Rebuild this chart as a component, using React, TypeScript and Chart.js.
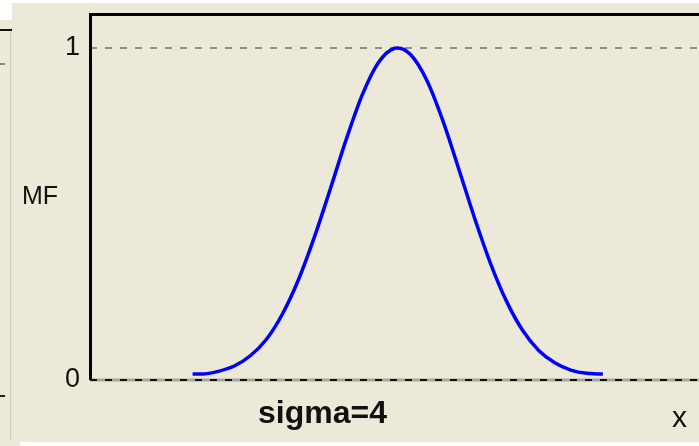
import React, { useEffect, useRef } from "react";
import { Chart, registerables } from "chart.js";

Chart.register(...registerables);

const xValues = [6.4, 7, 8, 9, 10, 11, 12, 13, 14, 15, 16, 17, 18, 19, 19.2, 20, 21, 22, 23, 24, 25, 26, 27, 28, 29, 30, 31, 32];
const mfValues = [0.018, 0.018, 0.026, 0.042, 0.073, 0.122, 0.198, 0.301, 0.43, 0.576, 0.726, 0.86, 0.956, 0.999, 1.0, 0.98, 0.904, 0.783, 0.637, 0.487, 0.35, 0.236, 0.149, 0.089, 0.052, 0.03, 0.02, 0.018];
const yTickValues = [0, 1];
const yTickLabels = ["0", "1"];
const yLabel = "MF";
const xLabel = "x";
const caption = "sigma=4";

const BG = "#ECE9D8";

export default function App() {
  const ref = useRef<HTMLCanvasElement>(null);
  useEffect(() => {
    const canvas = ref.current!;
    const decor = {
      id: "decor",
      beforeDraw(chart: any) {
        const ctx = chart.ctx;
        const { chartArea, scales } = chart;
        ctx.save();
        ctx.fillStyle = BG;
        ctx.fillRect(0, 0, 699, 446);
        ctx.fillStyle = "#ffffff";
        ctx.fillRect(0, 0, 699, 3);
        ctx.fillRect(0, 0, 12, 20);
        ctx.fillRect(20, 442, 679, 4);
        // left neighbour panel remnants
        ctx.fillStyle = "#111";
        ctx.fillRect(0, 29, 12, 2);
        ctx.strokeStyle = "#cfccc0";
        ctx.lineWidth = 1;
        ctx.beginPath();
        ctx.moveTo(10.5, 31);
        ctx.lineTo(10.5, 440);
        ctx.stroke();
        ctx.strokeStyle = "#888";
        ctx.lineWidth = 2;
        ctx.setLineDash([5, 6]);
        ctx.beginPath();
        ctx.moveTo(0, 64);
        ctx.lineTo(9, 64);
        ctx.stroke();
        ctx.strokeStyle = "#222";
        ctx.beginPath();
        ctx.moveTo(0, 396);
        ctx.lineTo(11, 396);
        ctx.stroke();
        ctx.setLineDash([]);
        // gray under-line of zero level
        const y0 = scales.y.getPixelForValue(0);
        ctx.strokeStyle = "#a9a79f";
        ctx.lineWidth = 3;
        ctx.beginPath();
        ctx.moveTo(chartArea.left, y0);
        ctx.lineTo(chartArea.right, y0);
        ctx.stroke();
        ctx.restore();
      },
      afterDraw(chart: any) {
        const ctx = chart.ctx;
        const { chartArea } = chart;
        ctx.save();
        ctx.fillStyle = "#000";
        ctx.fillRect(chartArea.left - 1, chartArea.top - 1, 3, chartArea.bottom - chartArea.top + 1);
        ctx.fillRect(chartArea.left - 1, chartArea.top - 1, chartArea.right - chartArea.left + 1, 3);
        ctx.fillStyle = "#111";
        ctx.textBaseline = "alphabetic";
        ctx.textAlign = "left";
        ctx.font = "25px 'Liberation Sans', Arial, sans-serif";
        ctx.fillText(yLabel, 22, 204);
        ctx.font = "bold 32px 'Liberation Sans', Arial, sans-serif";
        ctx.fillText(caption, 258, 423);
        ctx.font = "30px 'Liberation Sans', Arial, sans-serif";
        ctx.fillText(xLabel, 672, 427);
        ctx.restore();
      },
    };
    const chart = new Chart(canvas, {
      type: "line",
      data: {
        datasets: [
          {
            data: xValues.map((x, i) => ({ x, y: mfValues[i] })),
            borderColor: "#0000FF",
            borderWidth: 3.5,
            pointRadius: 0,
            fill: false,
            cubicInterpolationMode: "monotone",
          },
        ],
      },
      options: {
        animation: false,
        responsive: false,
        devicePixelRatio: 1,
        layout: { padding: { left: 0, top: 14, right: 0, bottom: 66 } },
        plugins: { legend: { display: false }, tooltip: { enabled: false } },
        scales: {
          x: { type: "linear", min: 0, max: 38, display: false },
          y: {
            type: "linear",
            min: 0,
            max: 1.102,
            afterFit: (s: any) => {
              s.width = 90;
              s.paddingTop = 0;
              s.paddingBottom = 0;
            },
            afterBuildTicks: (s: any) => {
              s.ticks = yTickValues.map((v) => ({ value: v }));
            },
            ticks: {
              padding: 10,
              color: "#111",
              font: { size: 27, family: "'Liberation Sans', Arial, sans-serif" },
              callback: (v: any) => {
                const i = yTickValues.indexOf(Number(v));
                return i >= 0 ? yTickLabels[i] : "";
              },
            },
            grid: {
              drawTicks: false,
              lineWidth: 2,
              color: (c: any) => (c.tick && c.tick.value === 0 ? "#111" : "#8f8f8f"),
            },
            border: { display: false, dash: [7, 8] },
          },
        },
      },
      plugins: [decor],
    } as any);
    return () => chart.destroy();
  }, []);
  return (
    <div style={{ position: "absolute", left: 0, top: 0, width: 699, height: 446 }}>
      <canvas ref={ref} width={699} height={446} style={{ display: "block" }} />
    </div>
  );
}
